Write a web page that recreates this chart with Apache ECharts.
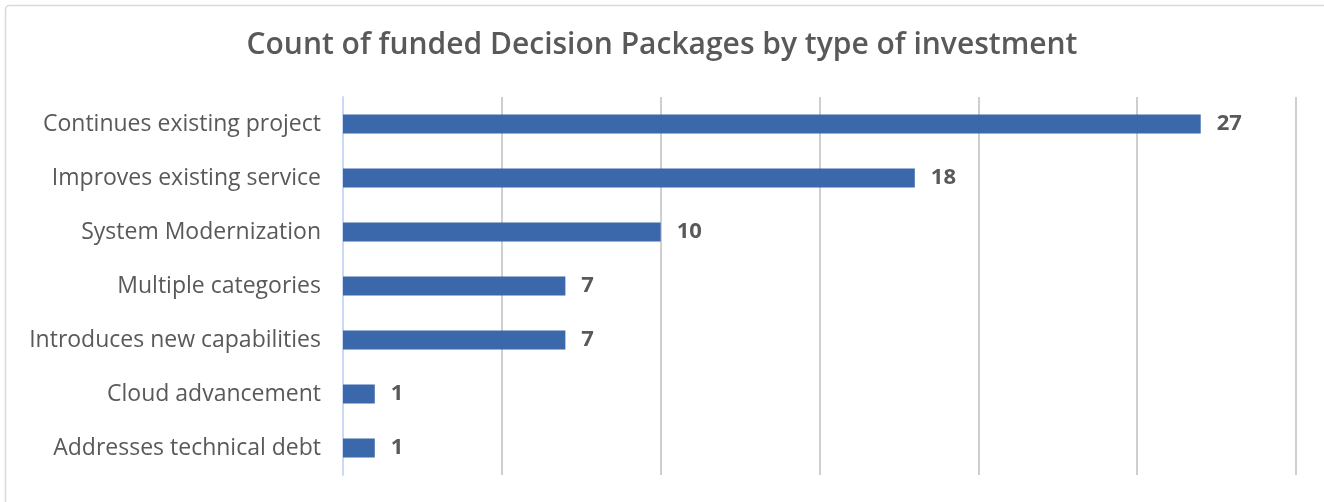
<!DOCTYPE html>
<html><head><meta charset="utf-8">
<script src="https://cdn.jsdelivr.net/npm/echarts@6/dist/echarts.min.js"></script>
<style>html,body{margin:0;padding:0;background:#fff}#c{width:1324px;height:502px}</style>
</head><body><div id="c"></div>
<script>
const categories = ["Continues existing project","Improves existing service","System Modernization","Multiple categories","Introduces new capabilities","Cloud advancement","Addresses technical debt"];
const values = [27,18,10,7,7,1,1];
const chart = echarts.init(document.getElementById('c'));
chart.setOption({
  animation:false,
  graphic:[{type:'rect',shape:{x:5.5,y:5.5,width:1340,height:520,r:4},style:{fill:'none',stroke:'#d9d9d9',lineWidth:1.5},silent:true}],
  title:{text:'Count of funded Decision Packages by type of investment',left:'center',top:25,
    textStyle:{fontFamily:'Open Sans',fontSize:30,fontWeight:600,color:'#595959'}},
  grid:{left:343,right:28,top:97,bottom:27,containLabel:false},
  xAxis:{type:'value',min:0,max:30,interval:5,axisLabel:{show:false},axisLine:{show:false},axisTick:{show:false},
    splitLine:{show:true,lineStyle:{color:'#bfbfbf',width:1.5}}},
  yAxis:{type:'category',inverse:true,data:categories,
    axisLine:{show:true,lineStyle:{color:'#c9daf8',width:2}},axisTick:{show:false},
    axisLabel:{margin:22,fontFamily:'Open Sans',fontSize:23,color:'#595959'}},
  series:[{type:'bar',data:values,barWidth:19,itemStyle:{color:'#3b67ab'},
    label:{show:true,position:'right',distance:16,fontFamily:'Open Sans',fontSize:22,fontWeight:'bold',color:'#595959'}}]
});
</script></body></html>
